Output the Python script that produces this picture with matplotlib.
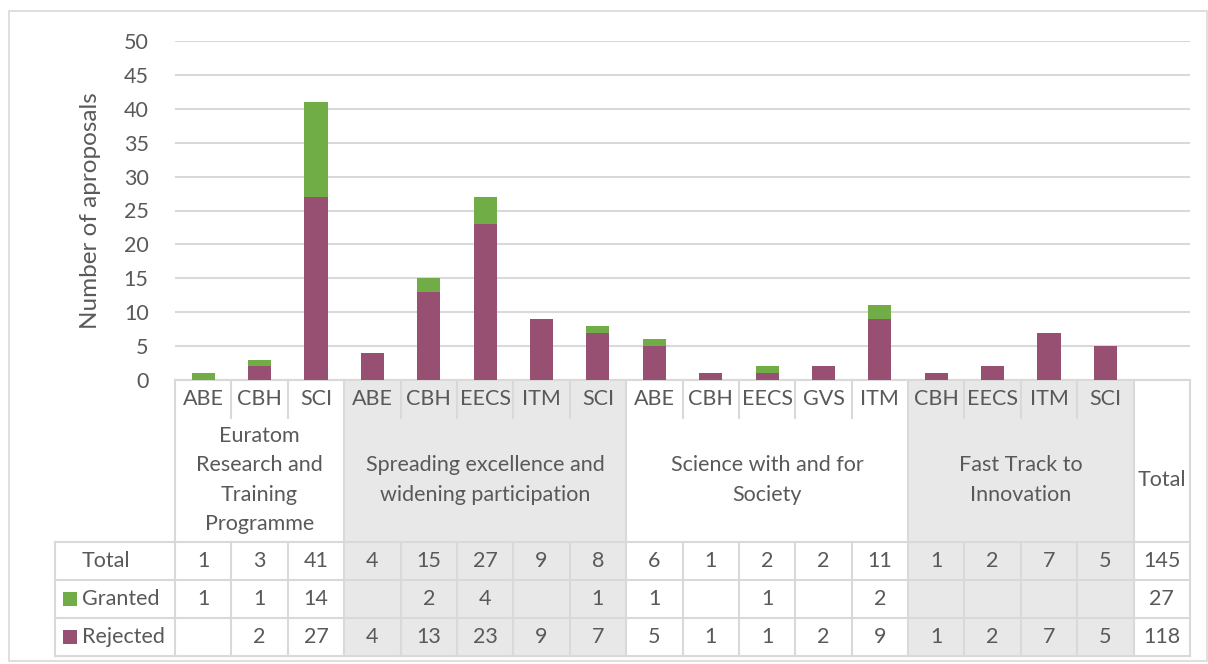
import numpy as np
import matplotlib
matplotlib.use("Agg")
import matplotlib.pyplot as plt
from matplotlib.patches import Rectangle

plt.rcParams["font.family"] = ["Lato", "DejaVu Sans"]

# data
groups = [
    "Euratom\nResearch and\nTraining\nProgramme",
    "Spreading excellence and\nwidening participation",
    "Science with and for\nSociety",
    "Fast Track to\nInnovation",
]
group_cats = [
    ["ABE", "CBH", "SCI"],
    ["ABE", "CBH", "EECS", "ITM", "SCI"],
    ["ABE", "CBH", "EECS", "GVS", "ITM"],
    ["CBH", "EECS", "ITM", "SCI"],
]
granted = [1, 1, 14, 0, 2, 4, 0, 1, 1, 0, 1, 0, 2, 0, 0, 0, 0]
rejected = [0, 2, 27, 4, 13, 23, 9, 7, 5, 1, 1, 2, 9, 1, 2, 7, 5]

cats = [c for g in group_cats for c in g]
granted = np.array(granted)
rejected = np.array(rejected)
totals = granted + rejected
n = len(cats)
ncol = n + 1  # plus "Total" column

GREEN = "#70ad47"
PURPLE = "#974f72"
TXT = "#595959"
LINE = "#d9d9d9"
SHADE = "#e8e8e8"
FS = 15.5

W, H = 1208, 664
fig = plt.figure(figsize=(W / 100, H / 100), dpi=100)

# pixel geometry of the plot/table
x_left, x_right = 175, 1190
y_zero, y_top = 380, 41
cw = (x_right - x_left) / ncol
rows = [380, 418, 542, 580, 618, 656]

# table layer in pixel coordinates
tb = fig.add_axes([0, 0, 1, 1], zorder=0)
tb.set_xlim(0, W)
tb.set_ylim(H, 0)
tb.axis("off")

# outer border
tb.add_patch(Rectangle((9, 11), 1198, 650, fill=False, edgecolor=LINE, lw=1.2))

edges = x_left + cw * np.arange(ncol + 1)
start = 0
for gi, (gname, gc) in enumerate(zip(groups, group_cats)):
    a, b = edges[start], edges[start + len(gc)]
    if gi % 2 == 1:
        tb.add_patch(Rectangle((a, rows[0]), b - a, rows[5] - rows[0],
                               facecolor=SHADE, edgecolor="none", zorder=0))
    tb.text((a + b) / 2, 480, gname, ha="center", va="center",
            fontsize=FS, color=TXT, linespacing=1.6)
    # group borders full height
    tb.plot([a, a], [rows[0], rows[5]], color=LINE, lw=1.5)
    # inner category separators: first row and the value rows
    for k in range(1, len(gc)):
        xk = edges[start + k]
        tb.plot([xk, xk], [rows[0], rows[1]], color=LINE, lw=1.5)
        tb.plot([xk, xk], [rows[2], rows[5]], color=LINE, lw=1.5)
    start += len(gc)

# Total column borders
tb.plot([edges[n], edges[n]], [rows[0], rows[5]], color=LINE, lw=1.5)
tb.plot([edges[-1], edges[-1]], [rows[0], rows[5]], color=LINE, lw=1.5)
tb.text((edges[n] + edges[-1]) / 2, 480, "Total", ha="center", va="center",
        fontsize=FS, color=TXT)

# horizontal lines
tb.plot([x_left, x_right], [rows[0], rows[0]], color=LINE, lw=1.5)
for r in rows[2:]:
    tb.plot([55, x_right], [r, r], color=LINE, lw=1.5)
tb.plot([55, 55], [rows[2], rows[5]], color=LINE, lw=1.5)

# category labels
for i, c in enumerate(cats):
    tb.text((edges[i] + edges[i + 1]) / 2, (rows[0] + rows[1]) / 2, c,
            ha="center", va="center", fontsize=FS, color=TXT)

# value rows
row_vals = [totals, granted, rejected]
row_tot = [totals.sum(), granted.sum(), rejected.sum()]
row_names = ["Total", "Granted", "Rejected"]
for ri, (vals, tot, name) in enumerate(zip(row_vals, row_tot, row_names)):
    yc = (rows[ri + 2] + rows[ri + 3]) / 2
    for i, v in enumerate(vals):
        if v:
            tb.text((edges[i] + edges[i + 1]) / 2, yc, str(v), ha="center",
                    va="center", fontsize=FS, color=TXT)
    tb.text((edges[n] + edges[-1]) / 2, yc, str(tot), ha="center",
            va="center", fontsize=FS, color=TXT)
    tb.text(82, yc, name, ha="left", va="center", fontsize=FS, color=TXT)
    if ri > 0:
        tb.add_patch(Rectangle((63, yc - 7), 14, 14,
                               facecolor=GREEN if ri == 1 else PURPLE,
                               edgecolor="none"))

# bar chart
ax = fig.add_axes([x_left / W, (H - y_zero) / H, (x_right - x_left) / W,
                   (y_zero - y_top) / H], zorder=1)
ax.patch.set_alpha(0)
x = np.arange(n)
ax.bar(x, rejected, width=0.41, color=PURPLE, zorder=3)
ax.bar(x, granted, width=0.41, bottom=rejected, color=GREEN, zorder=3)
ax.set_xlim(-0.5, ncol - 0.5)
ax.set_ylim(0, 50)
ax.set_yticks(range(0, 51, 5))
ax.set_xticks([])
ax.yaxis.grid(True, color=LINE, lw=1.5, zorder=0)
ax.set_axisbelow(True)
for s in ax.spines.values():
    s.set_visible(False)
ax.tick_params(axis="y", length=0, labelsize=FS, labelcolor=TXT, pad=19)
ax.set_ylabel("Number of aproposals", fontsize=17.5, color=TXT, labelpad=16)

fig.savefig("out.png", dpi=100)
